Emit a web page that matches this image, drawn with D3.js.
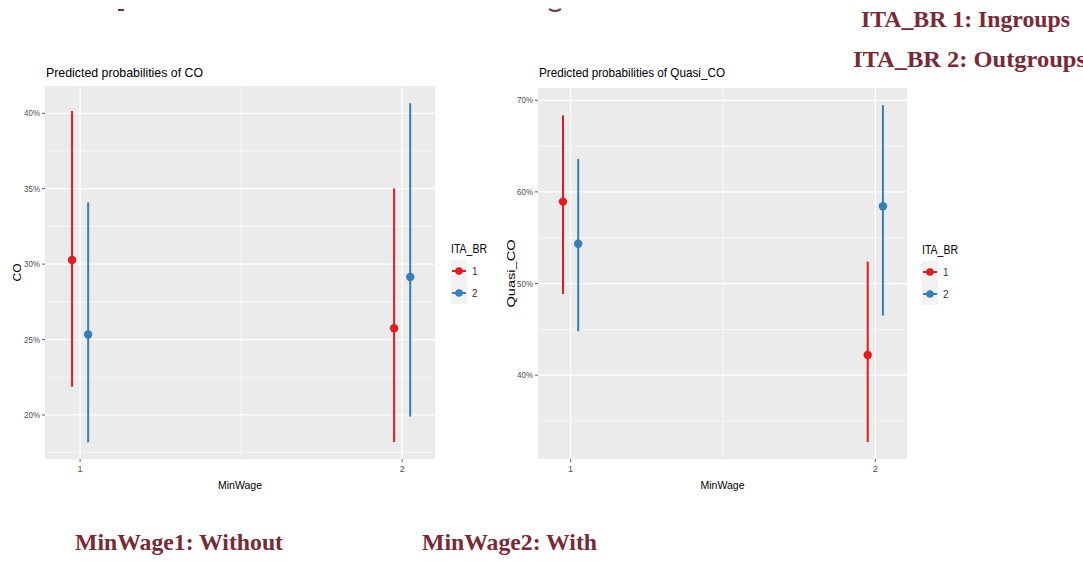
<!DOCTYPE html>
<html lang="en">
<head>
<meta charset="UTF-8">
<title>Predicted probabilities</title>
<script src="https://d3js.org/d3.v7.min.js"></script>
<style>
  * { margin: 0; padding: 0; box-sizing: border-box; }
  body { background: #fff; width: 1083px; height: 561px; overflow: hidden; }
  svg { display: block; }
</style>
</head>
<body>
<svg id="chart" width="1083" height="561"></svg>
<script>
// ---- data ----
const minWageLevels = [1, 2];
const itaGroups = ["1", "2"];
const groupColors = ["#e41a1c", "#377eb8"];

// CO
const coPred1 = [0.3027, 0.2575];
const coLow1  = [0.2187, 0.1821];
const coHigh1 = [0.4015, 0.3502];
const coPred2 = [0.2533, 0.2915];
const coLow2  = [0.1819, 0.1990];
const coHigh2 = [0.3410, 0.4066];
const coTicks = [0.20, 0.25, 0.30, 0.35, 0.40];

// Quasi_CO
const quasiPred1 = [0.5894, 0.4220];
const quasiLow1  = [0.4886, 0.3270];
const quasiHigh1 = [0.6835, 0.5240];
const quasiPred2 = [0.5434, 0.5844];
const quasiLow2  = [0.4480, 0.4650];
const quasiHigh2 = [0.6360, 0.6946];
const quasiTicks = [0.40, 0.50, 0.60, 0.70];

const svg = d3.select("#chart");
const sans = "'Liberation Sans', Arial, sans-serif";
const serif = "'Liberation Serif', 'Times New Roman', serif";
const maroon = "#7b2936";

function txt(g, s, x, y, opt) {
    const t = g.append("text")
        .attr("x", x).attr("y", y)
        .attr("font-family", opt.family || sans)
        .attr("font-size", opt.size)
        .attr("fill", opt.fill || "#000")
        .attr("text-anchor", opt.anchor || "start")
        .text(s);
    if (opt.weight) t.attr("font-weight", opt.weight);
    if (opt.len) t.attr("textLength", opt.len).attr("lengthAdjust", "spacingAndGlyphs");
    if (opt.rotate) t.attr("transform", `rotate(${opt.rotate},${x},${y})`);
    return t;
}

function drawPanel(cfg) {
    const g = svg.append("g");
    const x = d3.scaleLinear().domain(cfg.xDomain).range([cfg.left, cfg.right]);
    const y = d3.scaleLinear().domain(cfg.yDomain).range([cfg.bottom, cfg.top]);
    const dodge = 0.025;

    // panel background
    g.append("rect")
        .attr("x", cfg.left).attr("y", cfg.top)
        .attr("width", cfg.right - cfg.left).attr("height", cfg.bottom - cfg.top)
        .attr("fill", "#ebebeb");

    // minor grid
    const step = cfg.ticks[1] - cfg.ticks[0];
    const minorY = [cfg.ticks[0] - step / 2].concat(cfg.ticks.map(t => t + step / 2))
        .filter(v => v > cfg.yDomain[0] && v < cfg.yDomain[1]);
    g.selectAll(".minorY").data(minorY).enter().append("line")
        .attr("x1", cfg.left).attr("x2", cfg.right)
        .attr("y1", d => y(d)).attr("y2", d => y(d))
        .attr("stroke", "#fff").attr("stroke-width", 0.6);
    g.append("line")
        .attr("x1", x(1.5)).attr("x2", x(1.5))
        .attr("y1", cfg.top).attr("y2", cfg.bottom)
        .attr("stroke", "#fff").attr("stroke-width", 0.6);

    // major grid
    g.selectAll(".majorY").data(cfg.ticks).enter().append("line")
        .attr("x1", cfg.left).attr("x2", cfg.right)
        .attr("y1", d => y(d)).attr("y2", d => y(d))
        .attr("stroke", "#fff").attr("stroke-width", 1.2);
    g.selectAll(".majorX").data(minWageLevels).enter().append("line")
        .attr("x1", d => x(d)).attr("x2", d => x(d))
        .attr("y1", cfg.top).attr("y2", cfg.bottom)
        .attr("stroke", "#fff").attr("stroke-width", 1.2);

    // y axis ticks + labels
    cfg.ticks.forEach(t => {
        g.append("line")
            .attr("x1", cfg.left - 3).attr("x2", cfg.left)
            .attr("y1", y(t)).attr("y2", y(t))
            .attr("stroke", "#333").attr("stroke-width", 0.8);
        txt(g, d3.format(".0%")(t), cfg.left - 5, y(t) + 3, { size: 9, fill: "#4d4d4d", anchor: "end", len: 16 });
    });
    // x axis ticks + labels
    minWageLevels.forEach(v => {
        g.append("line")
            .attr("x1", x(v)).attr("x2", x(v))
            .attr("y1", cfg.bottom).attr("y2", cfg.bottom + 3)
            .attr("stroke", "#333").attr("stroke-width", 0.8);
        txt(g, String(v), x(v), cfg.bottom + 13, { size: 9, fill: "#4d4d4d", anchor: "middle" });
    });

    // titles
    txt(g, cfg.title, cfg.left + 1, 77, { size: 13, len: cfg.titleLen });
    txt(g, "MinWage", (cfg.left + cfg.right) / 2, 489, { size: 11, anchor: "middle", len: 44 });
    txt(g, cfg.yTitle, cfg.yTitleX, (cfg.top + cfg.bottom) / 2, { size: 11.5, anchor: "middle", rotate: -90, len: cfg.yTitleLen });

    // point ranges
    cfg.series.forEach((s, gi) => {
        const off = gi === 0 ? -dodge : dodge;
        minWageLevels.forEach((v, i) => {
            g.append("line")
                .attr("x1", x(v + off)).attr("x2", x(v + off))
                .attr("y1", y(s.low[i])).attr("y2", y(s.high[i]))
                .attr("stroke", groupColors[gi]).attr("stroke-width", 2);
            g.append("circle")
                .attr("cx", x(v + off)).attr("cy", y(s.pred[i]))
                .attr("r", 4.2).attr("fill", groupColors[gi]);
        });
    });

    // legend
    const lx = cfg.legendX, ly = cfg.legendY;
    txt(g, "ITA_BR", lx, ly, { size: 12, len: 36 });
    g.append("rect")
        .attr("x", lx).attr("y", ly + 7)
        .attr("width", 16).attr("height", 44)
        .attr("fill", "#f2f2f2");
    itaGroups.forEach((lab, gi) => {
        const ky = ly + 18 + gi * 22;
        g.append("line")
            .attr("x1", lx + 1).attr("x2", lx + 15)
            .attr("y1", ky).attr("y2", ky)
            .attr("stroke", groupColors[gi]).attr("stroke-width", 2);
        g.append("circle")
            .attr("cx", lx + 8).attr("cy", ky).attr("r", 3.8)
            .attr("fill", groupColors[gi]);
        txt(g, lab, lx + 21, ky + 4, { size: 10, fill: "#333" });
    });
}

drawPanel({
    left: 45, right: 435, top: 86, bottom: 459,
    xDomain: [0.891, 2.102], yDomain: [0.1708, 0.4181],
    ticks: coTicks,
    title: "Predicted probabilities of CO", titleLen: 157,
    yTitle: "CO", yTitleX: 20.5, yTitleLen: 18,
    legendX: 451, legendY: 253,
    series: [
        { pred: coPred1, low: coLow1, high: coHigh1 },
        { pred: coPred2, low: coLow2, high: coHigh2 }
    ]
});

drawPanel({
    left: 538, right: 907, top: 88, bottom: 459,
    xDomain: [0.893, 2.104], yDomain: [0.3085, 0.7134],
    ticks: quasiTicks,
    title: "Predicted probabilities of Quasi_CO", titleLen: 186,
    yTitle: "Quasi_CO", yTitleX: 515, yTitleLen: 68,
    legendX: 922, legendY: 254,
    series: [
        { pred: quasiPred1, low: quasiLow1, high: quasiHigh1 },
        { pred: quasiPred2, low: quasiLow2, high: quasiHigh2 }
    ]
});

// slide annotations
txt(svg, "ITA_BR 1: Ingroups", 861, 27, { family: serif, size: 23, weight: "bold", fill: maroon, len: 209 });
txt(svg, "ITA_BR 2: Outgroups", 853, 67, { family: serif, size: 23, weight: "bold", fill: maroon, len: 233 });
txt(svg, "MinWage1: Without", 75, 550, { family: serif, size: 23, weight: "bold", fill: maroon, len: 208 });
txt(svg, "MinWage2: With", 422, 550, { family: serif, size: 23, weight: "bold", fill: maroon, len: 175 });

// remnants of a cut-off heading at the very top
svg.append("line").attr("x1", 118).attr("x2", 124).attr("y1", 10).attr("y2", 10)
    .attr("stroke", maroon).attr("stroke-width", 2);
svg.append("path").attr("d", "M549,9 Q555,13 561,9")
    .attr("fill", "none").attr("stroke", maroon).attr("stroke-width", 2);
</script>
</body>
</html>
